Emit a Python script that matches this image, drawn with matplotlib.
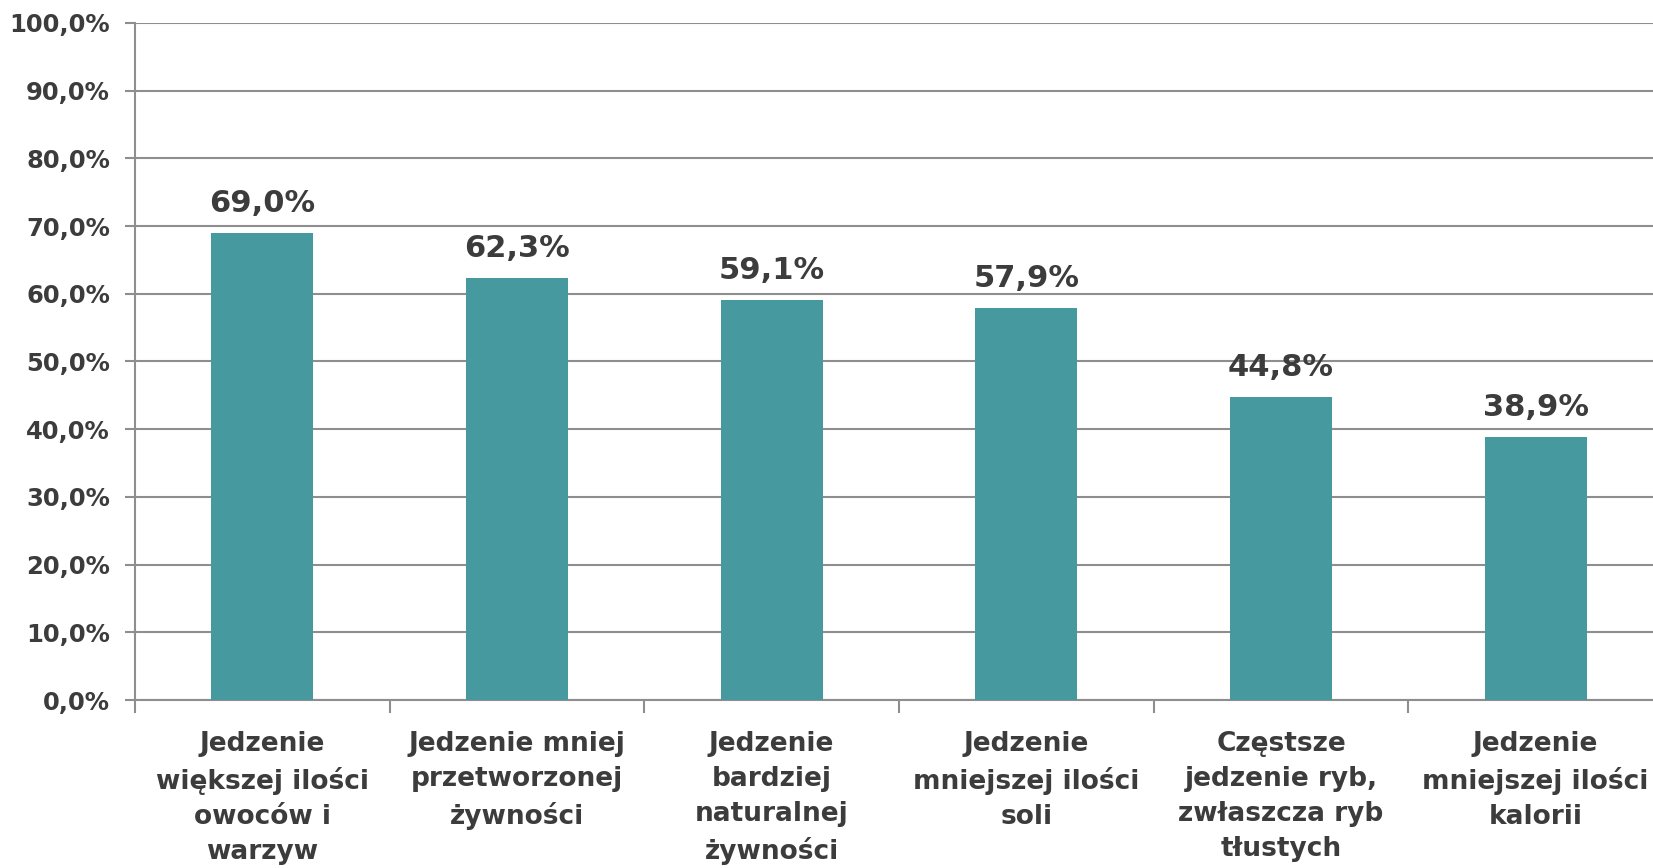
import matplotlib.pyplot as plt
import numpy as np

categories = [
    "Jedzenie\nwiększej ilości\nowoców i\nwarzyw",
    "Jedzenie mniej\nprzetworzonej\nżywności",
    "Jedzenie\nbardziej\nnaturalnej\nżywności",
    "Jedzenie\nmniejszej ilości\nsoli",
    "Częstsze\njedzenie ryb,\nzwłaszcza ryb\ntłustych",
    "Jedzenie\nmniejszej ilości\nkalorii",
]
values = [69.0, 62.3, 59.1, 57.9, 44.8, 38.9]
y_ticks = [0, 10, 20, 30, 40, 50, 60, 70, 80, 90, 100]

BAR_COLOR = "#4799A0"
TEXT_COLOR = "#3C3C3C"
GRID_COLOR = "#8E8E8E"

plt.rcParams["font.family"] = ["DejaVu Sans"]

fig = plt.figure(figsize=(16.53, 8.68), dpi=100)
ax = fig.add_axes([135 / 1653, 168 / 868, 1528 / 1653, 677 / 868])

x = np.arange(len(values))
bars = ax.bar(x, values, width=0.4, color=BAR_COLOR, zorder=3)

for rect, val in zip(bars, values):
    label = f"{val:.1f}%".replace(".", ",")
    ax.annotate(label, (rect.get_x() + rect.get_width() / 2, val),
                xytext=(0, 15), textcoords="offset points",
                ha="center", va="baseline", fontsize=22, fontweight="bold",
                color=TEXT_COLOR)

ax.set_xlim(-0.5, len(values) - 0.5)
ax.set_ylim(0, 100)
ax.set_yticks(y_ticks)
ax.set_yticklabels([f"{t:.1f}%".replace(".", ",") for t in y_ticks],
                   fontsize=17.5, fontweight="bold", color=TEXT_COLOR)
ax.yaxis.grid(True, color=GRID_COLOR, linewidth=1.5, zorder=0)
ax.tick_params(axis="y", length=7, width=1.5, color=GRID_COLOR, pad=11)

ax.set_xticks(x)
ax.set_xticklabels(categories, fontsize=19, fontweight="bold", color=TEXT_COLOR,
                   linespacing=1.46)
ax.tick_params(axis="x", which="major", length=0, pad=22)
ax.set_xticks(np.arange(-0.5, len(values), 1.0), minor=True)
ax.tick_params(axis="x", which="minor", length=9, width=1.5, color=GRID_COLOR)

for side in ["top", "right"]:
    ax.spines[side].set_visible(False)
for side in ["left", "bottom"]:
    ax.spines[side].set_color(GRID_COLOR)
    ax.spines[side].set_linewidth(1.5)

fig.savefig("out.png", dpi=100)
